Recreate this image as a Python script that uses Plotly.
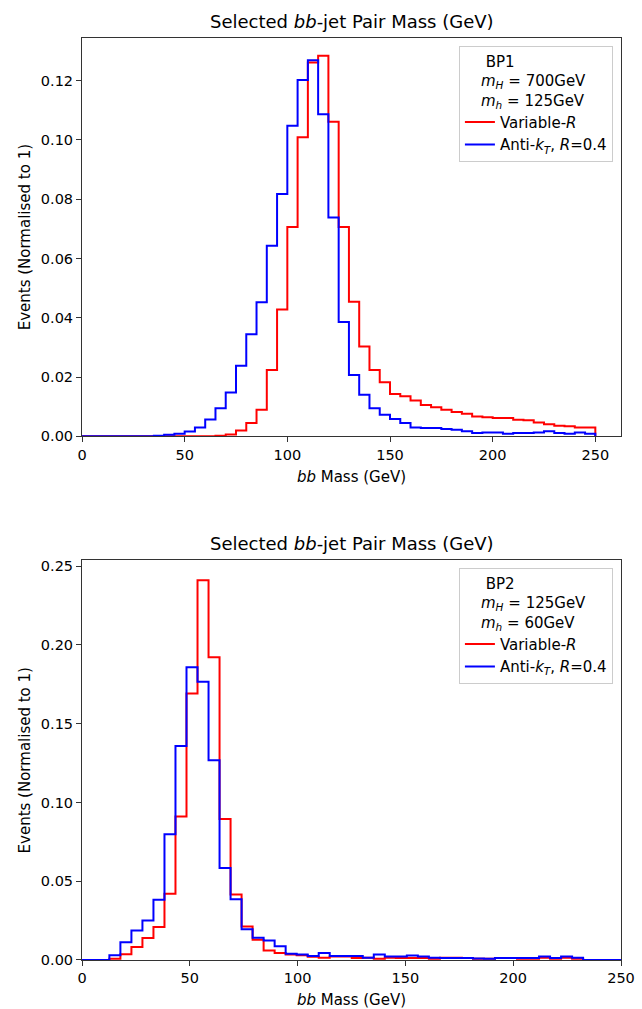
import numpy as np
import plotly.graph_objects as go

# BP1: 50 bins of 5 GeV from 0 to 250
bp1_lo, bp1_width = 0.0, 5.0
bp1_varR = [0, 0, 0, 0, 0, 0, 0, 0, 0, 0, 0, 0, 0,
            0.0002, 0.0006, 0.002, 0.0045, 0.009, 0.0224, 0.0428, 0.0706, 0.1009, 0.1261,
            0.1284, 0.1061, 0.0706, 0.0454, 0.0303, 0.0224, 0.0182, 0.0143, 0.0135, 0.0121,
            0.0106, 0.0098, 0.009, 0.0082, 0.0076, 0.0067, 0.0064, 0.0062, 0.0062, 0.0056,
            0.0054, 0.0047, 0.0041, 0.0036, 0.0034, 0.003, 0.003]
bp1_akt = [0, 0, 0, 0, 0, 0, 0,
           0.0002, 0.0005, 0.0009, 0.0016, 0.003, 0.0057, 0.0095, 0.0148, 0.0238, 0.0344,
           0.0452, 0.0643, 0.0818, 0.1048, 0.1202, 0.1269, 0.1087, 0.0738, 0.0386, 0.0207,
           0.014, 0.0095, 0.0073, 0.0058, 0.0045, 0.003, 0.0028, 0.0028, 0.0025, 0.0022,
           0.0017, 0.0011, 0.0013, 0.0013, 0.0009, 0.0011, 0.0011, 0.0013, 0.0017, 0.0011,
           0.0009, 0.0013, 0.0009]

# BP2: 43 bins starting at ~12.7 GeV
bp2_lo, bp2_width = 12.7, 5.11
bp2_varR = [0.0008, 0.0036, 0.0082, 0.0139, 0.0209, 0.042, 0.0911, 0.1692, 0.241, 0.1922,
            0.0895, 0.0416, 0.0213, 0.0129, 0.0061, 0.0045, 0.0035, 0.003, 0.002, 0.0015,
            0.0022, 0.0022, 0.0012, 0.0015, 0.0008, 0.0015, 0.0012, 0.0012, 0.0012, 0.0008,
            0.0015, 0.0015, 0.0012, 0.0008, 0.0008, 0.0012, 0.0012, 0.0008, 0.0008, 0.0015,
            0.0008, 0.0015, 0.0008]
bp2_akt = [0.003, 0.0112, 0.0188, 0.0251, 0.0382, 0.0798, 0.1359, 0.1859, 0.1766, 0.1268,
           0.0584, 0.0386, 0.0196, 0.0141, 0.0124, 0.0087, 0.004, 0.0035, 0.0025, 0.0045,
           0.0025, 0.0025, 0.0025, 0.0015, 0.0035, 0.0022, 0.0022, 0.0028, 0.0022, 0.0015,
           0.0012, 0.0012, 0.0012, 0.001, 0.0008, 0.0012, 0.0012, 0.0012, 0.0012, 0.0022,
           0.0012, 0.0022, 0.0015]

hist_range = [0, 250]
x_ticks = [0, 50, 100, 150, 200, 250]

title = "Selected <i>bb</i>-jet Pair Mass (GeV)"
xlabel = "<i>bb</i> Mass (GeV)"
ylabel = "Events (Normalised to 1)"
name_varR = "Variable-<i>R</i>"
name_akt = "Anti-<i>k<sub>T</sub></i>, <i>R</i>=0.4"
sp = "&nbsp;"
bp1_head = (sp * 5 + "BP1<br>" + sp * 4 + "<i>m<sub>H</sub></i> = 700GeV<br>"
            + sp * 4 + "<i>m<sub>h</sub></i> = 125GeV")
bp2_head = (sp * 5 + "BP2<br>" + sp * 4 + "<i>m<sub>H</sub></i> = 125GeV<br>"
            + sp * 4 + "<i>m<sub>h</sub></i> = 60GeV")


def step_xy(lo, width, vals):
    # outline like matplotlib histtype='step', with zero line over the full range
    edges = lo + width * np.arange(len(vals) + 1)
    xs = [hist_range[0], edges[0]] + list(edges[:-1]) + [edges[-1], hist_range[1]]
    ys = [0, 0] + list(vals) + [0, 0]
    return xs, ys


fig = go.Figure()

for lo, w, vals, col, nm, xa, ya, lg in [
        (bp1_lo, bp1_width, bp1_varR, "red", name_varR, "x", "y", "legend"),
        (bp1_lo, bp1_width, bp1_akt, "blue", name_akt, "x", "y", "legend"),
        (bp2_lo, bp2_width, bp2_varR, "red", name_varR, "x2", "y2", "legend2"),
        (bp2_lo, bp2_width, bp2_akt, "blue", name_akt, "x2", "y2", "legend2")]:
    xs, ys = step_xy(lo, w, vals)
    fig.add_trace(go.Scatter(x=xs, y=ys, mode="lines", line_shape="hv",
                             line=dict(color=col, width=2), name=nm,
                             xaxis=xa, yaxis=ya, legend=lg))

font = "DejaVu Sans"
ax = dict(showline=True, mirror=True, linecolor="#333333", linewidth=1,
          ticks="outside", ticklen=5, tickwidth=1, tickcolor="#333333",
          showgrid=False, zeroline=False, automargin=False,
          tickfont=dict(size=14.5, color="black"))

leg = dict(font=dict(size=15, family=font, color="black"), bgcolor="rgba(255,255,255,0.8)",
           bordercolor="#cccccc", borderwidth=1, xanchor="right", yanchor="top",
           tracegroupgap=0, itemwidth=30)

fig.update_layout(
    width=642, height=1009,
    margin=dict(l=82, r=21, t=38, b=49, autoexpand=False),
    paper_bgcolor="white", plot_bgcolor="white",
    font=dict(family=font, size=14.5, color="black"),
    showlegend=True,
    xaxis=dict(ax, domain=[0, 1], anchor="y", range=[0, 262.5], tickvals=x_ticks,
               title=dict(text=xlabel, standoff=9, font=dict(size=15))),
    yaxis=dict(ax, domain=[0.568, 1], anchor="x", range=[0, 0.1344],
               tickvals=[0, 0.02, 0.04, 0.06, 0.08, 0.10, 0.12], tickformat=".2f",
               title=dict(text=ylabel, standoff=6, font=dict(size=15))),
    xaxis2=dict(ax, domain=[0, 1], anchor="y2", range=hist_range, tickvals=x_ticks,
                title=dict(text=xlabel, standoff=9, font=dict(size=15))),
    yaxis2=dict(ax, domain=[0, 0.4333], anchor="x2", range=[0, 0.2536],
                tickvals=[0, 0.05, 0.10, 0.15, 0.20, 0.25], tickformat=".2f",
                title=dict(text=ylabel, standoff=6, font=dict(size=15))),
    legend=dict(leg, x=0.985, y=0.991,
                title=dict(text=bp1_head, font=dict(size=15))),
    legend2=dict(leg, x=0.985, y=0.425,
                 title=dict(text=bp2_head, font=dict(size=15))),
)

# subplot titles
fig.add_annotation(text=title, xref="paper", yref="paper", x=0.5, y=1.0,
                   yanchor="bottom", showarrow=False, yshift=4, font=dict(size=18))
fig.add_annotation(text=title, xref="paper", yref="paper", x=0.5, y=0.4333,
                   yanchor="bottom", showarrow=False, yshift=4, font=dict(size=18))

# drop the page's default body margin so the figure fills the window exactly
fig.write_html("out.html", config={"displayModeBar": False},
               post_script="document.body.style.margin='0';")
